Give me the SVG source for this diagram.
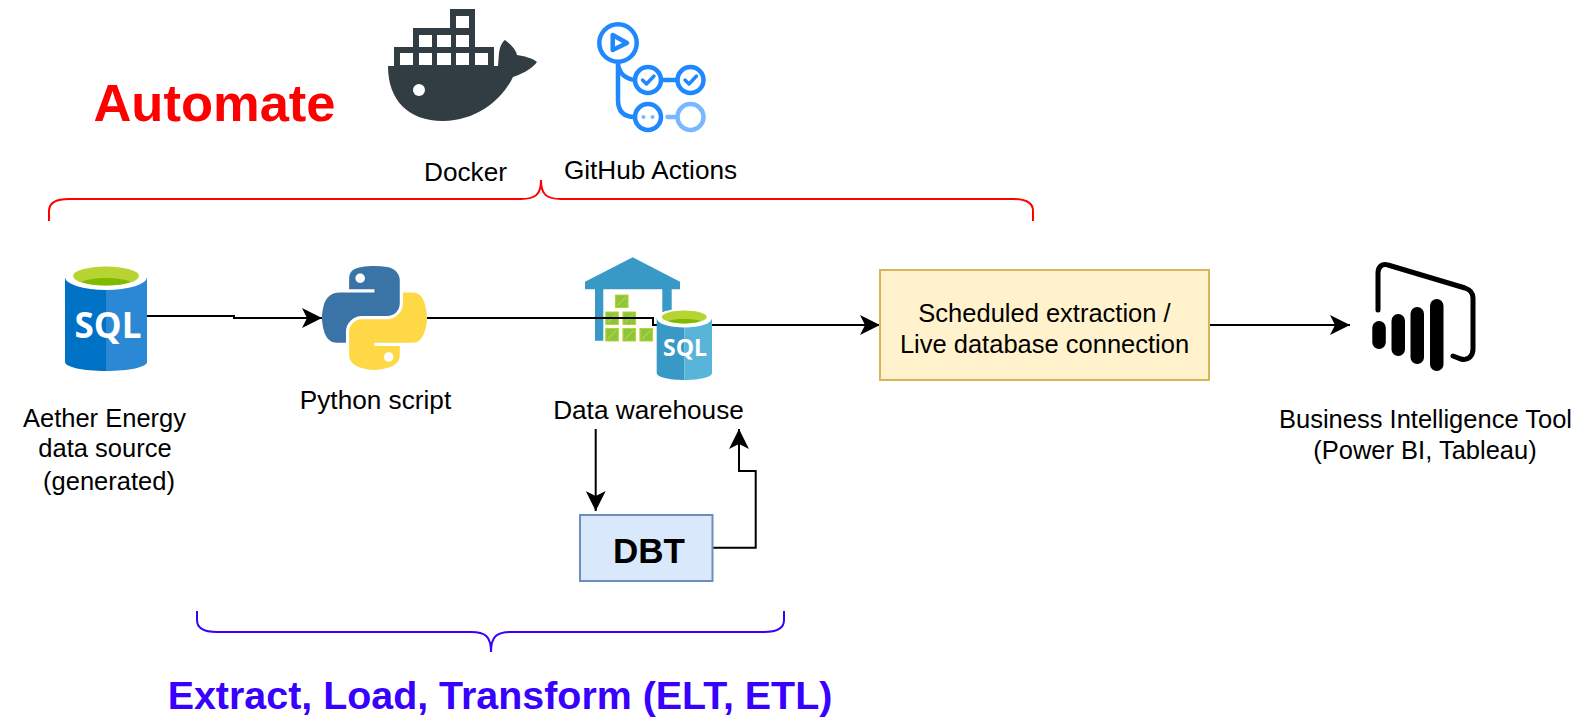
<svg xmlns="http://www.w3.org/2000/svg" width="1586" height="728" viewBox="0 0 1586 728">
<style>
text{font-family:"Liberation Sans",Arial,sans-serif;fill:#000;font-size:25.5px;text-anchor:middle}
.w{font-size:26.2px}
.b{font-weight:bold}
.icon{font-family:"Open Sans","Liberation Sans",sans-serif;font-weight:700;fill:#fff}
.c{fill:none;stroke:#000;stroke-width:2}
.gh{fill:none;stroke:#2088ff;stroke-width:4.5;stroke-linecap:round;stroke-linejoin:round}
.gl{fill:none;stroke:#79b8ff;stroke-width:4.5;stroke-linecap:round}
.ck{fill:none;stroke:#2088ff;stroke-width:3.4;stroke-linecap:round;stroke-linejoin:round}
.gb{fill:#8cc63f;stroke:#b8d432;stroke-width:1.2}
.bi{fill:none;stroke:#000;stroke-width:5;stroke-linecap:round}
</style>
<defs>
<marker id="arr" markerUnits="userSpaceOnUse" markerWidth="20" markerHeight="20" refX="20" refY="10" orient="auto"><path d="M0 0L20 10L0 20L5 10Z" fill="#000"/></marker>
<path id="k" d="M0 0h12.500v12.500h-12.500zM2 10.500L10.500 2"/>
</defs>
<rect width="1586" height="728" fill="#fff"/>

<g id="warehouse-building">
<path d="M632.7 257.3L680 281.7V289.3H671.7V312H662.3V289.3H603.3V340.7H595V289.3H585V281.7Z" fill="#3999c6"/>
<g class="gb">
<use href="#k" x="615.5" y="295"/><use href="#k" x="605.8" y="312"/><use href="#k" x="623" y="312"/>
<use href="#k" x="605.8" y="328.5"/><use href="#k" x="623" y="328.5"/><use href="#k" x="640" y="328.5"/>
</g>
</g>

<g id="connectors">
<path class="c" d="M147 316H234V318H322" marker-end="url(#arr)"/>
<path class="c" d="M427 318H653V325H880" marker-end="url(#arr)"/>
<path class="c" d="M1209 325H1350" marker-end="url(#arr)"/>
<path class="c" d="M595.7 429V511" marker-end="url(#arr)"/>
<path class="c" d="M712.7 547.7H755.7V471H739V429" marker-end="url(#arr)"/>
</g>

<g id="title-automate"><text class="b" x="214.5" y="121" style="font-size:52.5px;fill:#f00">Automate</text></g>

<g id="docker">
<path fill="#323c43" fill-rule="evenodd" d="M450 9H475V47H494V66H498L499 53C500 46 502 42 505 40C510 44 516 49 517 55C524 56 532 58 537 62C533 67 527 72 513 77C503 98 478 121 443 121C408 121 388 100 388 66H394V47H413V28H450Z
M456 16V28H469V16Z M419 35V47H432V35Z M437 35V47H451V35Z M456 35V47H469V35Z M400 53V65H413V53Z M419 53V65H432V53Z M437 53V65H451V53Z M456 53V65H469V53Z M475 53V65H488V53Z"/>
<circle cx="419" cy="90" r="6" fill="#fff"/>
<text class="w" x="465.5" y="181">Docker</text>
</g>

<g id="github-actions">
<circle class="gh" cx="618" cy="43" r="18.7"/>
<path class="gh" d="M612.7 35V50L627 43Z"/>
<path class="gh" d="M618 64V100Q618 117 635 117M618 64Q620 78 635 80M661 80H677"/>
<circle class="gh" cx="648" cy="80" r="13"/>
<circle class="gh" cx="690.5" cy="80" r="13"/>
<path class="ck" d="M642.5 80L646.5 84L654 76"/><path class="ck" d="M685 80L689 84L696.5 76"/>
<circle class="gh" cx="648" cy="117" r="13"/>
<circle cx="643.5" cy="117" r="2" fill="#79b8ff"/><circle cx="652.5" cy="117" r="2" fill="#79b8ff"/>
<path class="gl" d="M667.5 117H675"/>
<circle class="gl" cx="690.5" cy="117" r="13"/>
<text class="w" x="650.5" y="179">GitHub Actions</text>
</g>

<g id="automate-brace"><path d="M49 221V211C49 203 55 199 69 199H521C535 199 541 195 541 180C541 195 547 199 561 199H1013C1027 199 1033 203 1033 211V221" fill="none" stroke="#f00" stroke-width="2"/></g>

<g id="source">
<path d="M65 278V362C65 367 83 371 106 371V278Z" fill="#0072c6"/>
<path d="M147 278V362C147 367 129 371 106 371V278Z" fill="#2a88d4"/>
<ellipse cx="106" cy="277" rx="41" ry="13" fill="#fff"/>
<ellipse cx="106" cy="276" rx="33" ry="9.500" fill="#b8d432"/>
<path d="M81 282C88 279 96 278 106 278C116 278 124 279 131 282C124 284.500 116 285.500 106 285.500C96 285.500 88 284.500 81 282Z" fill="#7fba00"/>
<text class="icon" x="108" y="338" style="font-size:35px">SQL</text>
<text x="104.500" y="427">Aether Energy</text>
<text x="105" y="457">data source</text>
<text x="109" y="490">(generated)</text>
</g>

<g id="python">
<g transform="translate(322 266) scale(.945 .925)">
<path fill="#3a73a6" fill-rule="evenodd" d="M54.919 0C50.335 .022 45.958 .413 42.106 1.095C30.76 3.099 28.7 7.295 28.7 15.032V25.25H55.513V28.656H18.638C10.845 28.656 4.022 33.34 1.888 42.25C-.574 52.463 -.683 58.836 1.888 69.5C3.793 77.438 8.345 83.094 16.138 83.094H25.357V70.844C25.357 61.994 33.014 54.188 42.106 54.188H68.888C76.342 54.188 82.294 48.05 82.294 40.563V15.032C82.294 7.766 76.164 2.307 68.888 1.095C64.282 .328 59.503 -.02 54.919 0ZM40.419 8.219C43.189 8.219 45.45 10.517 45.45 13.344C45.45 16.161 43.189 18.438 40.419 18.438C37.639 18.438 35.388 16.161 35.388 13.344C35.388 10.517 37.639 8.219 40.419 8.219Z"/>
<path fill="#ffd845" fill-rule="evenodd" d="M85.638 28.657V40.563C85.638 49.794 77.812 57.563 68.888 57.563H42.106C34.77 57.563 28.7 63.841 28.7 71.188V96.719C28.7 103.985 35.019 108.259 42.106 110.344C50.594 112.839 58.734 113.29 68.888 110.344C75.638 108.389 82.294 104.456 82.294 96.719V86.5H55.513V83.094H95.7C103.493 83.094 106.397 77.658 109.107 69.5C111.906 61.101 111.788 53.025 109.107 42.25C107.181 34.492 103.502 28.657 95.7 28.657ZM70.575 93.313C73.354 93.313 75.606 95.59 75.606 98.407C75.606 101.234 73.354 103.532 70.575 103.532C67.805 103.532 65.544 101.234 65.544 98.407C65.544 95.59 67.805 93.313 70.575 93.313Z"/>
</g>
<text class="w" x="375.5" y="409">Python script</text>
</g>

<g id="warehouse">
<path d="M656.7 318V373C656.7 377 669 380 684.3 380V318Z" fill="#3999c6"/>
<path d="M712 318V373C712 377 699.6 380 684.3 380V318Z" fill="#59b4d9"/>
<ellipse cx="684.3" cy="318" rx="27.7" ry="9.5" fill="#fff"/>
<ellipse cx="684.3" cy="317" rx="22.5" ry="6.4" fill="#b8d432"/>
<path d="M668 321C672 319.500 678 319 684.300 319C690.600 319 696.600 319.500 700.600 321C696.600 322.800 690.600 323.400 684.300 323.400C678 323.400 672 322.800 668 321Z" fill="#7fba00"/>
<text class="icon" x="685" y="355.500" style="font-size:23px">SQL</text>
<text class="w" x="648.500" y="419">Data warehouse</text>
</g>

<g id="dbt">
<rect x="580" y="515" width="132.500" height="66" fill="#dae8fc" stroke="#6c8ebf" stroke-width="2"/>
<text class="b" x="649" y="562.500" style="font-size:35px">DBT</text>
</g>

<g id="scheduled">
<rect x="880" y="270" width="329" height="110" fill="#fff2cc" stroke="#d6b656" stroke-width="2"/>
<text x="1044.500" y="322">Scheduled extraction /</text>
<text x="1044.500" y="353">Live database connection</text>
</g>

<g id="bi-tool">
<path class="bi" d="M1378 310V273C1378 267 1382 263 1388 265L1465 288C1471 290 1473 293 1473 298V349C1473 356 1468 361 1461 359L1453 356"/>
<g fill="#000">
<rect x="1372.300" y="321" width="13.500" height="28" rx="6.700"/>
<rect x="1391.500" y="314" width="13.500" height="42" rx="6.700"/>
<rect x="1410.500" y="307" width="13.500" height="57" rx="6.700"/>
<rect x="1430" y="299" width="13.500" height="72" rx="6.700"/>
</g>
<text x="1425.500" y="428">Business Intelligence Tool</text>
<text x="1425" y="459">(Power BI, Tableau)</text>
</g>

<g id="elt-brace"><path d="M197 611V620C197 628 203 632 217 632H471C485 632 491 636 491 652C491 636 497 632 511 632H764C778 632 784 628 784 620V611" fill="none" stroke="#3700ff" stroke-width="2"/></g>
<g id="elt-label"><text class="b" x="500" y="709" style="font-size:39.400px;fill:#3700ff">Extract, Load, Transform (ELT, ETL)</text></g>
</svg>
